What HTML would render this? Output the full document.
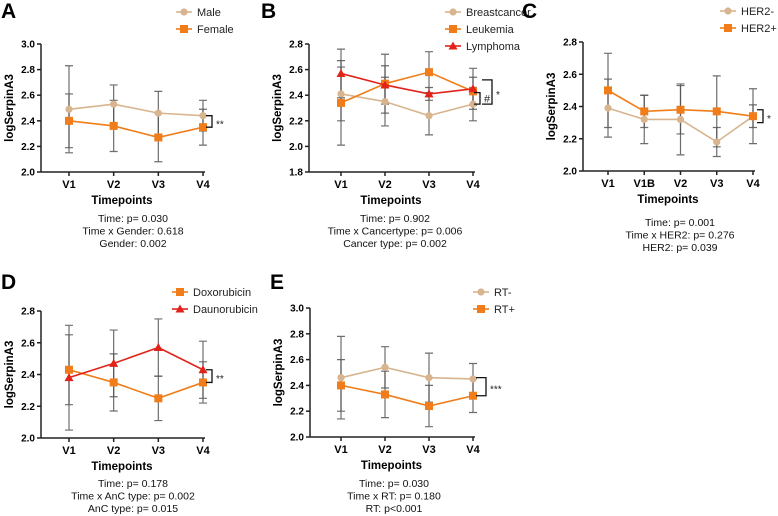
<!DOCTYPE html>
<html><head><meta charset="utf-8"><style>
body{margin:0;background:#fff;}
svg{display:block;font-family:"Liberation Sans",Arial,sans-serif;}
</style></head><body>
<svg id="fig" width="778" height="516" viewBox="0 0 778 516"></svg>
<script>
// ---- Panel A data ----
const catsA = ["V1","V2","V3","V4"];
const maleA = [2.49,2.53,2.46,2.44];
const maleSdA = [0.34,0.15,0.17,0.12];
const femaleA = [2.40,2.36,2.27,2.35];
const femaleSdA = [0.21,0.20,0.19,0.14];
const yTicksA = [2.0,2.2,2.4,2.6,2.8,3.0];
// ---- Panel B data ----
const catsB = ["V1","V2","V3","V4"];
const breastB = [2.41,2.35,2.24,2.33];
const breastSdB = [0.21,0.19,0.15,0.13];
const leukB = [2.34,2.49,2.58,2.43];
const leukSdB = [0.33,0.23,0.16,0.11];
const lymphB = [2.57,2.48,2.41,2.45];
const lymphSdB = [0.19,0.15,0.05,0.16];
const yTicksB = [1.8,2.0,2.2,2.4,2.6,2.8];
// ---- Panel C data ----
const catsC = ["V1","V1B","V2","V3","V4"];
const her2negC = [2.39,2.32,2.32,2.18,2.34];
const her2negSdC = [0.18,0.15,0.22,0.09,0.07];
const her2posC = [2.50,2.37,2.38,2.37,2.34];
const her2posSdC = [0.23,0.10,0.15,0.22,0.17];
const yTicksC = [2.0,2.2,2.4,2.6,2.8];
// ---- Panel D data ----
const catsD = ["V1","V2","V3","V4"];
const doxoD = [2.43,2.35,2.25,2.35];
const doxoSdD = [0.22,0.18,0.14,0.13];
const daunoD = [2.38,2.47,2.57,2.43];
const daunoSdD = [0.33,0.21,0.18,0.18];
const yTicksD = [2.0,2.2,2.4,2.6,2.8];
// ---- Panel E data ----
const catsE = ["V1","V2","V3","V4"];
const rtNegE = [2.46,2.54,2.46,2.45];
const rtNegSdE = [0.32,0.16,0.19,0.12];
const rtPosE = [2.40,2.33,2.24,2.32];
const rtPosSdE = [0.20,0.18,0.16,0.13];
const yTicksE = [2.0,2.2,2.4,2.6,2.8,3.0];

const TAN="#d8b48f", ORANGE="#f07d19", RED="#e2231a", GREY="#555";
const NS="http://www.w3.org/2000/svg";
const svg=document.getElementById('fig');
function el(tag,attrs,parent,txt){const e=document.createElementNS(NS,tag);for(const k in attrs)e.setAttribute(k,attrs[k]);if(txt!==undefined)e.textContent=txt;(parent||svg).appendChild(e);return e;}

function marker(g,shape,x,y,color){
  let m;
  if(shape==='circle') m=el('circle',{cx:x,cy:y,r:3.6,fill:color},g);
  else if(shape==='square') m=el('rect',{x:x-4,y:y-4,width:8,height:8,fill:color},g);
  else m=el('polygon',{points:`${x},${y-4.5} ${x-4.5},${y+3.5} ${x+4.5},${y+3.5}`,fill:color},g);
  return m;
}

function panel(p){
  const g=el('g',{});
  
  
  const ymin=p.yticks[0], ymax=p.yticks[p.yticks.length-1];
  const Y=v=>p.y0-(v-ymin)/(ymax-ymin)*(p.y0-p.y1);
  const X=i=>p.xFirst+i*(p.xLast-p.xFirst)/(p.cats.length-1);
  const lt=el('text',{x:p.lx,y:p.ly,'font-size':21,'font-weight':'bold'},g,p.letter);
  
  
  const ya=el('line',{x1:p.ax,y1:p.y1,x2:p.ax,y2:p.y0,stroke:'#222','stroke-width':1.5},g);
  
  
  const xa=el('line',{x1:p.ax,y1:p.y0,x2:p.xLast+2,y2:p.y0,stroke:'#222','stroke-width':1.5},g);
  
  
  p.yticks.forEach(t=>{
    el('line',{x1:p.ax-4,y1:Y(t),x2:p.ax,y2:Y(t),stroke:'#222','stroke-width':1.5},g);
    const tl=el('text',{x:p.ax-6,y:Y(t)+3.5,'font-size':10,'font-weight':'bold','text-anchor':'end'},g,t.toFixed(1));
    
    
  });
  p.cats.forEach((c,i)=>{
    el('line',{x1:X(i),y1:p.y0,x2:X(i),y2:p.y0+4,stroke:'#222','stroke-width':1.5},g);
    const xl=el('text',{x:X(i),y:p.y0+16,'font-size':11,'font-weight':'bold','text-anchor':'middle'},g,c);
    
    
  });
  const xt=el('text',{x:(p.ax+p.xLast)/2,y:p.y0+32,'font-size':11.5,'font-weight':'bold','text-anchor':'middle'},g,'Timepoints');
  
  
  const yc=(p.y0+p.y1)/2;
  const yt=el('text',{x:p.ax-28,y:yc,'font-size':11.5,'font-weight':'bold','text-anchor':'middle',transform:`rotate(-90 ${p.ax-28} ${yc})`},g,'logSerpinA3');
  
  
  p.series.forEach(s=>{
    s.vals.forEach((v,i)=>{
      const x=X(i),hi=Y(v+s.sd[i]),lo=Y(v-s.sd[i]);
      const eb=el('path',{d:`M${x},${hi}V${lo}M${x-4},${hi}H${x+4}M${x-4},${lo}H${x+4}`,stroke:GREY,'stroke-width':1.2,fill:'none',opacity:0.85},g);
      
      
    });
  });
  p.series.forEach(s=>{
    const pts=s.vals.map((v,i)=>X(i)+','+Y(v)).join(' ');
    const ln=el('polyline',{points:pts,fill:'none',stroke:s.color,'stroke-width':1.6},g);
    
    
    s.vals.forEach((v,i)=>{
      const m=marker(g,s.shape,X(i),Y(v),s.color);
      
      
    });
  });
  p.series.forEach((s,k)=>{
    const ly=p.legY+k*17;
    const lg=el('g',{},g);
    
    
    el('line',{x1:p.legX,y1:ly,x2:p.legX+16,y2:ly,stroke:s.color,'stroke-width':1.6},lg);
    marker(lg,s.shape,p.legX+8,ly,s.color);
    el('text',{x:p.legX+21,y:ly+4,'font-size':11,fill:'#222'},lg,s.name);
  });
  p.brackets.forEach(b=>{
    const br=el('path',{d:`M${b.x1},${Y(b.a)}H${b.x2}V${Y(b.b)}H${b.x1}`,fill:'none',stroke:'#111','stroke-width':1.3},g);
    
    
    const bt=el('text',{x:b.x2+4,y:(Y(b.a)+Y(b.b))/2+(b.t==='#'?4:6),'font-size':b.t==='#'?11:10,fill:'#222'},g,b.t);
    
    
  });
  p.stats.forEach((t,k)=>{
    const st=el('text',{x:p.statX,y:p.statY+k*12.5,'font-size':10.5,'text-anchor':'middle',fill:'#111'},g,t);
    
    
  });
}

panel({letter:'A',lx:1,ly:18,ax:41,y0:172,y1:44,xFirst:69,xLast:203,cats:catsA,yticks:yTicksA,legX:176,legY:12,
  series:[{key:'male',name:'Male',vals:maleA,sd:maleSdA,color:TAN,shape:'circle'},{key:'female',name:'Female',vals:femaleA,sd:femaleSdA,color:ORANGE,shape:'square'}],
  brackets:[{x1:206,x2:212,a:maleA[3],b:femaleA[3],t:'**'}],
  stats:['Time: p= 0.030','Time x Gender: 0.618','Gender: 0.002'],statX:133,statY:222});
panel({letter:'B',lx:261,ly:18,ax:309,y0:172,y1:44,xFirst:341,xLast:473,cats:catsB,yticks:yTicksB,legX:445,legY:12,
  series:[{key:'breastcancer',name:'Breastcancer',vals:breastB,sd:breastSdB,color:TAN,shape:'circle'},{key:'leukemia',name:'Leukemia',vals:leukB,sd:leukSdB,color:ORANGE,shape:'square'},{key:'lymphoma',name:'Lymphoma',vals:lymphB,sd:lymphSdB,color:RED,shape:'triangle'}],
  brackets:[{x1:474,x2:480,a:leukB[3]-0.01,b:breastB[3],t:'#'},{x1:482,x2:492,a:2.52,b:breastB[3],t:'*'}],
  stats:['Time: p= 0.902','Time x Cancertype: p= 0.006','Cancer type: p= 0.002'],statX:395,statY:222});
panel({letter:'C',lx:522,ly:18,ax:583,y0:171,y1:42,xFirst:608,xLast:753,cats:catsC,yticks:yTicksC,legX:720,legY:11,
  series:[{key:'her2-neg',name:'HER2-',vals:her2negC,sd:her2negSdC,color:TAN,shape:'circle'},{key:'her2-pos',name:'HER2+',vals:her2posC,sd:her2posSdC,color:ORANGE,shape:'square'}],
  brackets:[{x1:757,x2:763,a:2.38,b:2.30,t:'*'}],
  stats:['Time: p= 0.001','Time x HER2: p= 0.276','HER2: p= 0.039'],statX:680,statY:226});
panel({letter:'D',lx:1,ly:289,ax:41,y0:438,y1:311,xFirst:69,xLast:203,cats:catsD,yticks:yTicksD,legX:172,legY:292,
  series:[{key:'doxorubicin',name:'Doxorubicin',vals:doxoD,sd:doxoSdD,color:ORANGE,shape:'square'},{key:'daunorubicin',name:'Daunorubicin',vals:daunoD,sd:daunoSdD,color:RED,shape:'triangle'}],
  brackets:[{x1:206,x2:212,a:daunoD[3],b:doxoD[3],t:'**'}],
  stats:['Time: p= 0.178','Time x AnC type: p= 0.002','AnC type: p= 0.015'],statX:133,statY:487});
panel({letter:'E',lx:270,ly:289,ax:310,y0:437,y1:308,xFirst:341,xLast:473,cats:catsE,yticks:yTicksE,legX:473,legY:292,
  series:[{key:'rt-neg',name:'RT-',vals:rtNegE,sd:rtNegSdE,color:TAN,shape:'circle'},{key:'rt-pos',name:'RT+',vals:rtPosE,sd:rtPosSdE,color:ORANGE,shape:'square'}],
  brackets:[{x1:476,x2:486,a:rtNegE[3]+0.01,b:rtPosE[3],t:'***'}],
  stats:['Time: p= 0.030','Time x RT: p= 0.180','RT: p<0.001'],statX:394,statY:487});
</script>
</body></html>
